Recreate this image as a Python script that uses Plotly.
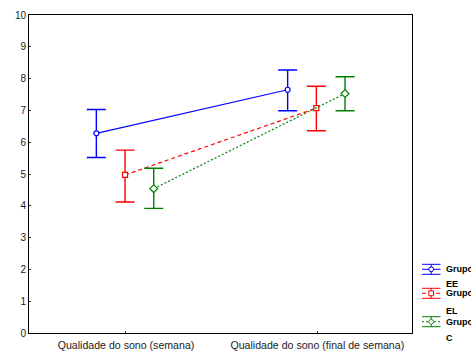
import plotly.graph_objects as go

# Categories on the x axis
categories = ["Qualidade do sono (semana)", "Qualidade do sono (final de semana)"]

# Group names (legend text) and series means with error-bar limits
groups = ["Grupo<br>EE", "Grupo<br>EL", "Grupo<br>C"]
means_ee = [6.28, 7.65]
upper_ee = [7.03, 8.27]
lower_ee = [5.52, 6.99]

means_el = [4.97, 7.07]
upper_el = [5.75, 7.76]
lower_el = [4.12, 6.36]

means_c = [4.54, 7.53]
upper_c = [5.18, 8.06]
lower_c = [3.92, 6.99]

y_ticks = list(range(0, 11))

series = [
    (groups[0], means_ee, upper_ee, lower_ee, "#0000ff", "solid", "circle", -0.155),
    (groups[1], means_el, upper_el, lower_el, "#ff0000", "4px,3px", "square", -0.005),
    (groups[2], means_c, upper_c, lower_c, "#008000", "2px,2px", "diamond", 0.145),
]

fig = go.Figure()
for name, m, up, lo, color, dash, symbol, offset in series:
    xs = [i + offset for i in range(len(categories))]
    fig.add_trace(go.Scatter(
        x=xs, y=m, name=name, mode="lines+markers",
        line=dict(color=color, width=1.2, dash=dash),
        marker=dict(symbol=symbol, size=5 if symbol != "diamond" else 6, color="white",
                    line=dict(color=color, width=1.2)),
        error_y=dict(type="data", symmetric=False,
                     array=[u - v for u, v in zip(up, m)],
                     arrayminus=[v - l for v, l in zip(m, lo)],
                     color=color, thickness=1.4, width=9.5),
        showlegend=False,
    ))

# Hand-drawn legend at the right edge
shapes = []
annotations = []
legend_y = [269.3, 293.3, 321.7]
legend_text_y2 = [284, 311, 338]
W, H = 471, 351
ML, MR, MT, MB = 29, 59, 15, 18
pw, ph = W - ML - MR, H - MT - MB


def px(x):
    return (x - ML) / pw


def py(y):
    return (H - MB - y) / ph


for (name, m, up, lo, color, dash, symbol, offset), yc, y2 in zip(series, legend_y, legend_text_y2):
    x0, x1, xm = 422, 440.5, 431.2
    # caps and whiskers
    for dy in (-5, 5):
        shapes.append(dict(type="line", xref="paper", yref="paper",
                           x0=px(x0), x1=px(x1), y0=py(yc + dy), y1=py(yc + dy),
                           line=dict(color=color, width=1)))
    shapes.append(dict(type="line", xref="paper", yref="paper",
                       x0=px(xm), x1=px(xm), y0=py(yc - 5), y1=py(yc + 5),
                       line=dict(color=color, width=1)))
    shapes.append(dict(type="line", xref="paper", yref="paper",
                       x0=px(x0), x1=px(x1), y0=py(yc), y1=py(yc),
                       line=dict(color=color, width=1, dash=dash)))
    r = 2.4
    if symbol == "circle":
        shapes.append(dict(type="circle", xref="paper", yref="paper",
                           x0=px(xm - r), x1=px(xm + r), y0=py(yc + r), y1=py(yc - r),
                           fillcolor="white", line=dict(color=color, width=1)))
    elif symbol == "square":
        shapes.append(dict(type="rect", xref="paper", yref="paper",
                           x0=px(xm - r), x1=px(xm + r), y0=py(yc + r), y1=py(yc - r),
                           fillcolor="white", line=dict(color=color, width=1)))
    else:
        d = 3.0
        path = "M {} {} L {} {} L {} {} L {} {} Z".format(
            px(xm - d), py(yc), px(xm), py(yc - d), px(xm + d), py(yc), px(xm), py(yc + d))
        shapes.append(dict(type="path", xref="paper", yref="paper", path=path,
                           fillcolor="white", line=dict(color=color, width=1)))
    first, second = name.split("<br>")
    annotations.append(dict(xref="paper", yref="paper", x=px(444), y=py(yc),
                            text="<b>%s</b>" % first, showarrow=False,
                            xanchor="left", yanchor="middle",
                            font=dict(family="Liberation Sans, Arial", size=9, color="black")))
    annotations.append(dict(xref="paper", yref="paper", x=px(444), y=py(y2),
                            text="<b>%s</b>" % second, showarrow=False,
                            xanchor="left", yanchor="middle",
                            font=dict(family="Liberation Sans, Arial", size=9, color="black")))

fig.update_layout(
    width=W, height=H,
    margin=dict(l=ML, r=MR, t=MT, b=MB, pad=0, autoexpand=False),
    paper_bgcolor="white", plot_bgcolor="white",
    font=dict(family="Liberation Sans, Arial", size=10, color="#222222"),
    shapes=shapes, annotations=annotations,
    xaxis=dict(range=[-0.507, 1.495], tickvals=list(range(len(categories))),
               ticktext=categories, showgrid=False, zeroline=False, automargin=False,
               showline=True, linecolor="black", linewidth=1, mirror=True,
               ticks="inside", ticklen=2, tickcolor="#333333", ticklabelstandoff=2,
               tickfont=dict(size=10.6, color="#222222")),
    yaxis=dict(range=[0, 10], tickvals=y_ticks, showgrid=False, zeroline=False,
               automargin=False,
               showline=True, linecolor="black", linewidth=1, mirror=True,
               ticks="inside", ticklen=2, tickcolor="#333333",
               tickfont=dict(size=10, color="#222222")),
)

fig.write_html("out.html")
